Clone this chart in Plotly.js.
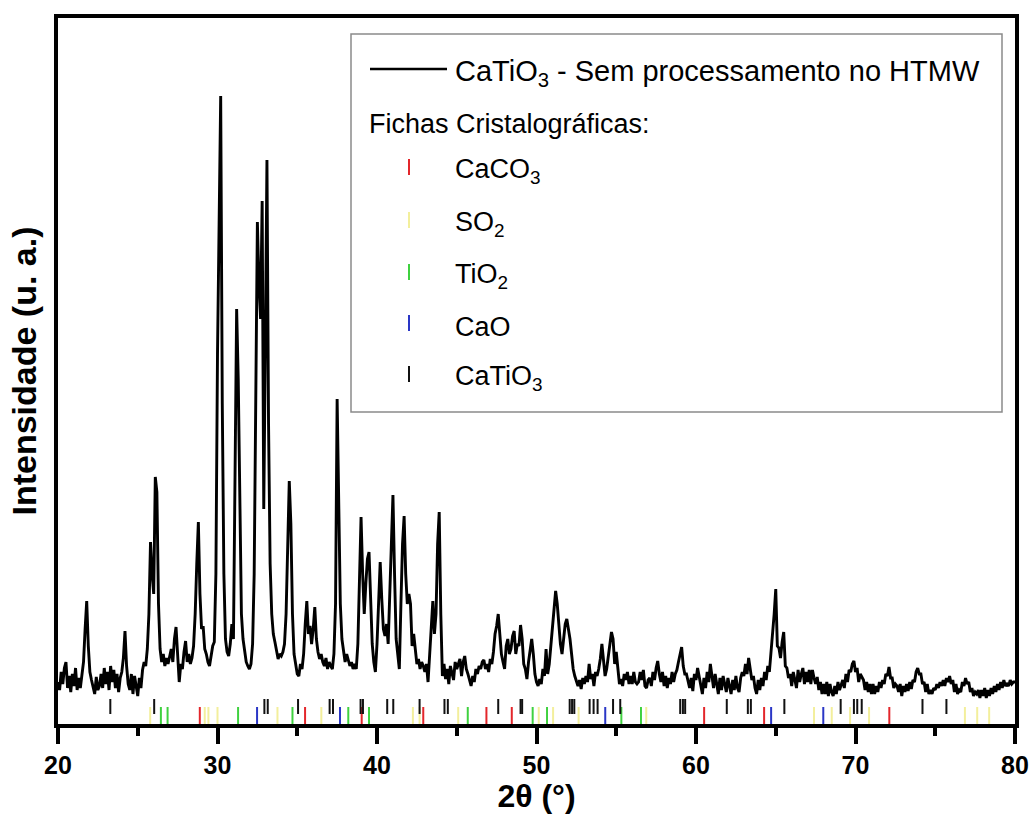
<!DOCTYPE html>
<html><head><meta charset="utf-8">
<script src="https://cdn.plot.ly/plotly-3.0.1.min.js"></script>
<style>html,body{margin:0;padding:0;background:#fff}</style>
</head><body><div id="chart" style="width:1032px;height:814px"></div>
<script>
// Diffractogram: 2θ from 20.0 to 80.0 in 0.1° steps (instrument grid)
const startAngle = 20.0, stepAngle = 0.1;
const intensity = [
 42,34,52,40,56,62,36,48,32,50,        // 20
 38,56,34,46,36,48,62,95,123,78,       // 21
 52,44,38,30,47,34,38,50,36,56,        // 22
 40,52,34,58,42,54,36,50,32,46,        // 23
 52,66,93,58,40,34,50,30,48,38,        // 24
 28,46,36,54,62,58,75,110,182,150,     // 25
 130,247,232,120,75,62,70,58,66,60,    // 26
 68,75,62,85,97,70,42,60,55,72,        // 27
 83,62,70,60,66,78,110,160,202,130,    // 28
 95,98,75,70,62,58,70,78,82,150,       // 29
 370,520,628,320,150,85,72,68,80,100,  // 30
 85,250,415,345,200,110,85,70,62,58,   // 31
 55,60,80,150,308,502,440,405,523,215, // 32
 380,564,300,160,110,90,82,75,65,70,   // 33
 68,72,80,110,180,243,200,110,70,58,   // 34
 50,48,60,55,70,100,123,90,98,80,      // 35
 95,117,85,72,65,70,62,58,66,55,       // 36
 62,58,55,70,120,325,220,120,85,70,    // 37
 62,70,65,58,62,55,60,55,80,152,       // 38
 207,150,110,140,165,172,120,80,62,52, // 39
 80,130,162,125,95,88,100,80,130,190,  // 40
 229,150,85,70,55,120,180,208,150,120, // 41
 130,120,78,90,72,60,65,55,62,58,      // 42
 52,60,42,70,100,123,90,110,180,212,   // 43
 110,48,60,45,55,40,58,50,44,62,       // 44
 55,60,65,48,62,68,55,50,45,38,        // 45
 48,42,55,50,58,55,62,64,55,60,        // 46
 52,65,60,72,90,98,110,88,70,62,       // 47
 55,78,85,70,75,88,93,70,80,78,        // 48
 99,85,60,55,45,62,75,85,70,50,        // 49
 42,38,45,40,55,48,75,50,60,80,        // 50
 95,115,133,120,95,80,70,85,100,105,   // 51
 95,85,70,55,48,42,38,44,35,46,        // 52
 40,48,42,60,45,50,38,52,48,55,        // 53
 65,80,62,48,55,68,80,92,85,60,        // 54
 72,55,40,45,38,50,44,52,40,48,        // 55
 40,52,42,40,42,52,44,54,38,36,        // 56
 44,46,38,52,44,56,63,50,42,52,        // 57
 38,48,36,46,40,52,42,50,54,62,        // 58
 70,77,58,50,50,44,36,46,33,50,        // 59
 44,56,48,40,30,46,36,52,42,60,        // 60
 48,36,50,38,30,46,34,48,40,32,        // 61
 46,36,30,44,34,48,36,32,46,52,        // 62
 48,60,50,66,54,44,48,36,30,44,        // 63
 34,46,38,52,44,58,52,70,85,110,       // 64
 135,78,76,66,82,92,58,56,46,50,       // 65
 38,52,44,36,54,42,50,56,40,52,        // 66
 42,54,40,54,46,40,47,34,42,30,        // 67
 40,30,42,28,40,32,28,38,30,42,        // 68
 34,38,44,36,50,42,54,52,60,63,        // 69
 52,56,42,50,46,44,34,42,32,40,        // 70
 30,40,30,38,32,42,36,44,40,50,        // 71
 48,57,46,46,36,40,38,32,40,28,        // 72
 38,32,40,33,42,35,44,42,52,56,        // 73
 50,50,40,42,32,40,30,34,30,36,        // 74
 34,40,36,42,38,44,38,46,42,48,        // 75
 40,44,32,40,30,34,32,42,38,46,        // 76
 40,42,32,36,28,32,30,34,26,34,        // 77
 28,36,26,34,28,36,30,38,32,40,        // 78
 34,42,36,44,38,40,38,44,40,42,        // 79
 42                                    // 80
];

// Crystallographic card reflections (2θ)
const cardCaCO3  = [28.89, 35.49, 39.04, 42.9, 46.86, 48.45, 60.51, 64.27, 72.12];
const cardSO2    = [25.78, 29.2, 29.43, 30.0, 33.76, 36.51, 42.25, 42.67, 45.09, 50.14, 51.04, 52.64, 56.88, 67.4, 68.51, 69.66, 70.85, 76.86, 77.63, 78.38];
const cardTiO2   = [26.45, 26.87, 31.29, 34.7, 38.2, 39.5, 45.69, 49.76, 50.66, 55.32, 56.55];
const cardCaO    = [32.48, 37.68, 54.31, 64.71, 67.98];
const cardCaTiO3 = [23.28, 26.03, 32.94, 33.15, 35.05, 37.03, 37.24, 38.97, 39.12, 40.64, 41.02, 42.67, 44.23, 44.44, 47.6, 49.0, 49.1, 52.08, 52.23, 52.37, 53.33, 53.58, 53.83, 54.8, 55.25, 59.01, 59.18, 59.32, 61.93, 63.25, 63.44, 65.54, 69.07, 69.9, 70.11, 70.39, 74.2, 75.7];

const cardNames  = ['CaCO<sub>3</sub>', 'SO<sub>2</sub>', 'TiO<sub>2</sub>', 'CaO', 'CaTiO<sub>3</sub>'];
const cardColors = ['#e3262b', '#f3ef9c', '#3fd13f', '#2a36c6', '#111111'];
const cardLists  = [cardCaCO3, cardSO2, cardTiO2, cardCaO, cardCaTiO3];

const seriesName = 'CaTiO<sub>3</sub> - Sem processamento no HTMW';
const legendHeading = 'Fichas Cristalográficas:';
const xTitle = '<b>2θ (°)</b>';
const yTitle = '<b>Intensidade (u. a.)</b>';
const xTickVals = [20, 30, 40, 50, 60, 70, 80];

const twoTheta = intensity.map((_, i) => +(startAngle + i * stepAngle).toFixed(2));

const FONT = 'Arial, "Liberation Sans", sans-serif';

const traces = [{
  x: twoTheta, y: intensity, type: 'scatter', mode: 'lines',
  line: {color: '#000', width: 2.9}, showlegend: false, hoverinfo: 'skip'
}];

cardLists.forEach((list, k) => {
  const isMain = k === 4;
  const lo = isMain ? 10 : 0, hi = isMain ? 25 : 17;
  const xs = [], ys = [];
  list.forEach(p => { xs.push(p, p, null); ys.push(lo, hi, null); });
  traces.push({x: xs, y: ys, type: 'scatter', mode: 'lines',
    line: {color: cardColors[k], width: 2}, showlegend: false, hoverinfo: 'skip'});
});

// pixel -> paper helpers for the plot box
const PL = 58, PR = 1015, PT = 18, PB = 724;
const px = x => (x - PL) / (PR - PL);
const py = y => (PB - y) / (PB - PT);

const shapes = [
  {type: 'rect', xref: 'paper', yref: 'paper', x0: px(351), x1: px(1002), y0: py(412), y1: py(34),
   line: {color: '#8a8a8a', width: 1.5}, fillcolor: 'rgba(0,0,0,0)'},
  {type: 'line', xref: 'paper', yref: 'paper', x0: px(370), x1: px(447), y0: py(69), y1: py(69),
   line: {color: '#000', width: 2.4}}
];
const annotations = [
  {xref: 'paper', yref: 'paper', x: px(453), y: py(73), xanchor: 'left', yanchor: 'middle',
   text: seriesName, showarrow: false, font: {family: FONT, size: 29, color: '#000'}},
  {xref: 'paper', yref: 'paper', x: px(367), y: py(124), xanchor: 'left', yanchor: 'middle',
   text: legendHeading, showarrow: false, font: {family: FONT, size: 27, color: '#000'}}
];
const rowY = [167, 220, 272, 323, 374];
cardNames.forEach((nm, k) => {
  shapes.push({type: 'line', xref: 'paper', yref: 'paper', x0: px(409), x1: px(409),
    y0: py(rowY[k] + 8), y1: py(rowY[k] - 8), line: {color: cardColors[k], width: 2}});
  annotations.push({xref: 'paper', yref: 'paper', x: px(453), y: py(rowY[k] + 4), xanchor: 'left', yanchor: 'middle',
    text: nm, showarrow: false, font: {family: FONT, size: 27, color: '#000'}});
});

const layout = {
  width: 1032, height: 814,
  margin: {l: PL, r: 1032 - PR, t: PT, b: 814 - PB},
  paper_bgcolor: '#fff', plot_bgcolor: '#fff',
  font: {family: FONT, color: '#000'},
  showlegend: false,
  xaxis: {
    range: [20, 80], tickvals: xTickVals, ticks: 'outside', ticklen: 16, tickwidth: 4, tickcolor: '#000',
    minor: {dtick: 5, tick0: 20, ticks: 'outside', ticklen: 8, tickwidth: 4, tickcolor: '#000'},
    showline: true, linewidth: 4, linecolor: '#000', mirror: true, showgrid: false, zeroline: false,
    tickfont: {family: FONT, size: 25, color: '#000', weight: 'bold'},
    title: {text: xTitle, font: {family: FONT, size: 32, color: '#000'}, standoff: 6}
  },
  yaxis: {
    range: [0, 706], showticklabels: false, ticks: '',
    showline: true, linewidth: 4, linecolor: '#000', mirror: true, showgrid: false, zeroline: false,
    title: {text: yTitle, font: {family: FONT, size: 34, color: '#000'}, standoff: 8}
  },
  shapes: shapes, annotations: annotations
};

Plotly.newPlot('chart', traces, layout, {staticPlot: true, displayModeBar: false});
</script>
</body></html>
